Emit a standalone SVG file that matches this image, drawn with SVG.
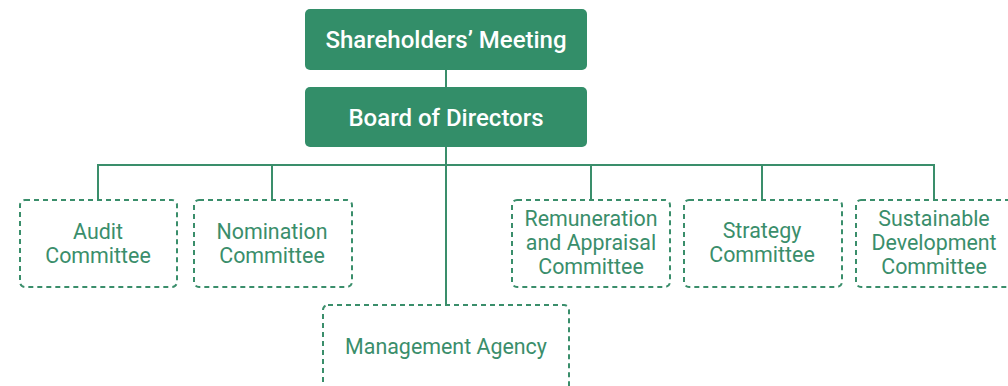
<svg xmlns="http://www.w3.org/2000/svg" width="1008" height="386" viewBox="0 0 1008 386">
<style>
.solid{fill:#338e69;}
.dash{fill:#fff;stroke:#3a8e6b;stroke-width:2;stroke-dasharray:5 4;}
.t1{font-family:Roboto,"Liberation Sans",sans-serif;font-size:24px;font-weight:500;fill:#fff;text-anchor:middle;}
.t2{font-family:Roboto,"Liberation Sans",sans-serif;font-size:21.4px;fill:#3a8e6b;text-anchor:middle;}
.conn{stroke:#3a8e6b;stroke-width:2;fill:none;}
</style>
<rect width="1008" height="386" fill="#fff"/>
<g id="connectors">
<line class="conn" x1="446" y1="70" x2="446" y2="87"/>
<line class="conn" x1="446" y1="147" x2="446" y2="305"/>
<polyline class="conn" points="98,199 98,165 934,165 934,199"/>
<line class="conn" x1="272" y1="165" x2="272" y2="199"/>
<line class="conn" x1="591" y1="165" x2="591" y2="199"/>
<line class="conn" x1="762" y1="165" x2="762" y2="199"/>
</g>
<g id="shareholders">
<rect class="solid" x="305" y="9" width="282" height="61" rx="5"/>
<text class="t1" x="446" y="48">Shareholders’ Meeting</text>
</g>
<g id="board">
<rect class="solid" x="305" y="87" width="282" height="60" rx="5"/>
<text class="t1" x="446" y="126">Board of Directors</text>
</g>
<g id="audit">
<rect class="dash" x="20" y="200" width="157" height="87" rx="5"/>
<text class="t2" x="98" y="239">Audit</text>
<text class="t2" x="98" y="263">Committee</text>
</g>
<g id="nomination">
<rect class="dash" x="194" y="200" width="158" height="87" rx="5"/>
<text class="t2" x="272" y="239">Nomination</text>
<text class="t2" x="272" y="263">Committee</text>
</g>
<g id="remuneration">
<rect class="dash" x="512" y="200" width="158" height="87" rx="5"/>
<text class="t2" x="591" y="226">Remuneration</text>
<text class="t2" x="591" y="250">and Appraisal</text>
<text class="t2" x="591" y="274">Committee</text>
</g>
<g id="strategy">
<rect class="dash" x="684" y="200" width="158" height="87" rx="5"/>
<text class="t2" x="762" y="238">Strategy</text>
<text class="t2" x="762" y="262">Committee</text>
</g>
<g id="sustainable">
<rect class="dash" x="856" y="200" width="158" height="87" rx="5"/>
<text class="t2" x="934" y="226">Sustainable</text>
<text class="t2" x="934" y="250">Development</text>
<text class="t2" x="934" y="274">Committee</text>
</g>
<g id="management">
<rect class="dash" x="323" y="305" width="246" height="100" rx="5"/>
<text class="t2" x="446" y="354">Management Agency</text>
</g>
</svg>
